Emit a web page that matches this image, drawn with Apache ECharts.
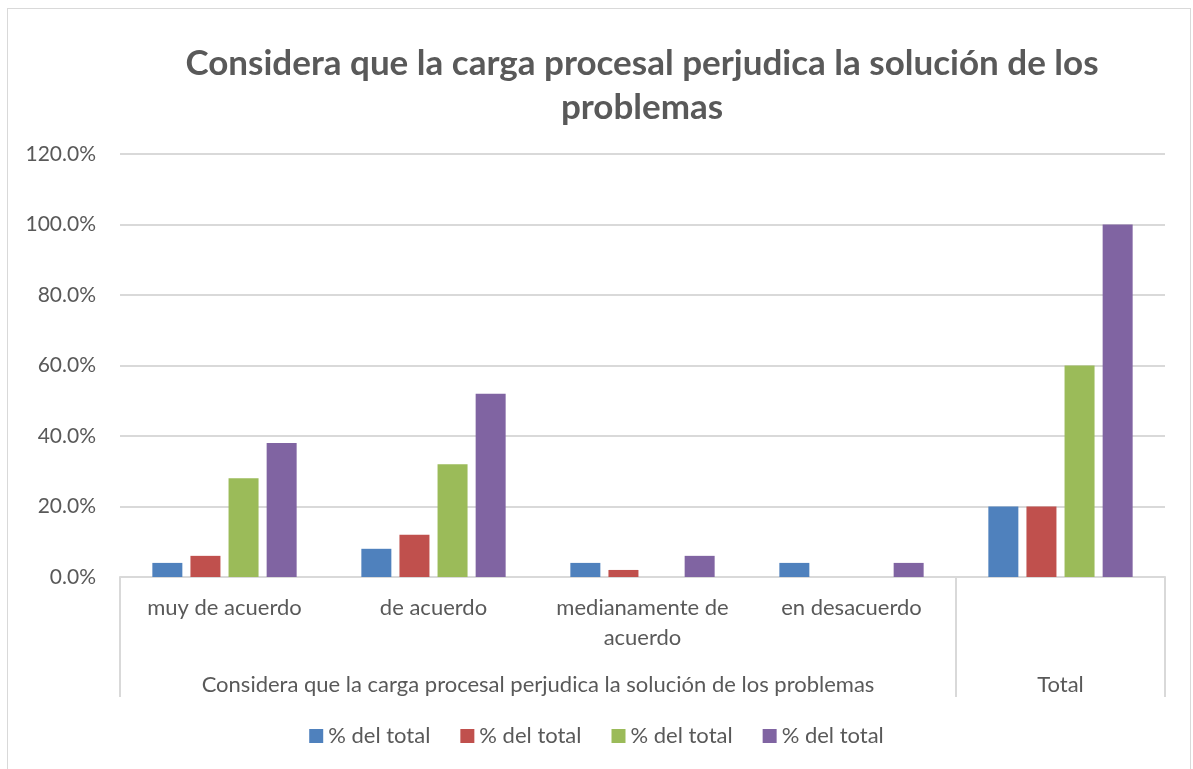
<!DOCTYPE html>
<html>
<head>
<meta charset="utf-8">
<script src="https://cdn.jsdelivr.net/npm/echarts@6/dist/echarts.min.js"></script>
<style>
  html, body { margin: 0; padding: 0; background: #fff; }
  .frame {
    position: absolute; left: 7px; top: 8px; width: 1184px; height: 780px;
    border: 1px solid #d9d9d9; box-sizing: border-box;
  }
  #chart { position: absolute; left: 0; top: 0; width: 1193px; height: 769px; }
</style>
</head>
<body>
<div class="frame"></div>
<div id="chart"></div>
<script>
  // values (percent)
  var categories = ['muy de acuerdo', 'de acuerdo', 'medianamente de\nacuerdo', 'en desacuerdo', '']
  var groupLabels = ['Considera que la carga procesal perjudica la solución de los problemas', 'Total']
  var serie1 = [4, 8, 4, 4, 20]
  var serie2 = [6, 12, 2, 0, 20]
  var serie3 = [28, 32, 0, 0, 60]
  var serie4 = [38, 52, 6, 4, 100]
  // all four series carry the same label, so keys keep them apart in the legend
  var seriesKeys = ['s1', 's2', 's3', 's4']
  var seriesLabel = '% del total'
  var colors = ['#4F81BD', '#C0504D', '#9BBB59', '#8064A2']

  var font = 'Lato, Carlito, sans-serif'
  var chart = echarts.init(document.getElementById('chart'))

  function bar(name, data, i) {
    return {
      name: name,
      type: 'bar',
      data: data,
      barWidth: 30,
      barGap: '27%',
      itemStyle: { color: colors[i] },
      xAxisIndex: 0
    }
  }

  chart.setOption({
    animation: false,
    title: {
      text: 'Considera que la carga procesal perjudica la solución de los\nproblemas',
      left: 637,
      textAlign: 'center',
      top: 37,
      textStyle: { fontFamily: font, fontSize: 35, fontWeight: 'bold', color: '#595959', lineHeight: 44 }
    },
    legend: {
      bottom: 17,
      left: 'center',
      itemWidth: 14,
      itemHeight: 14,
      itemGap: 30,
      icon: 'rect',
      textStyle: { fontFamily: font, fontSize: 22, color: '#595959' },
      formatter: function () { return seriesLabel },
      data: seriesKeys
    },
    tooltip: { show: false },
    grid: { left: 120, right: 28, top: 154, bottom: 192 },
    xAxis: [{
      type: 'category',
      data: categories,
      axisLine: { lineStyle: { color: '#d9d9d9', width: 2 } },
      axisTick: { show: false },
      axisLabel: { fontFamily: font, fontSize: 22, color: '#595959', margin: 16, lineHeight: 30, interval: 0 }
    }, {
      type: 'value',
      min: 0,
      max: 5,
      position: 'bottom',
      axisLine: { show: false },
      splitLine: { show: false },
      axisTick: { show: true, customValues: [0, 4, 5], length: 120, lineStyle: { color: '#d9d9d9', width: 2 } },
      axisLabel: {
        customValues: [2, 4.5],
        margin: 97,
        fontFamily: font, fontSize: 22, color: '#595959',
        formatter: function (v) { return v < 4 ? groupLabels[0] : groupLabels[1] }
      }
    }],
    yAxis: {
      type: 'value',
      min: 0,
      max: 120,
      interval: 20,
      axisLine: { show: false },
      axisTick: { show: false },
      splitLine: { lineStyle: { color: '#d9d9d9', width: 2 } },
      axisLabel: {
        fontFamily: font, fontSize: 21, color: '#595959', margin: 24,
        formatter: function (v) { return v.toFixed(1) + '%' }
      }
    },
    series: [
      bar(seriesKeys[0], serie1, 0),
      bar(seriesKeys[1], serie2, 1),
      bar(seriesKeys[2], serie3, 2),
      bar(seriesKeys[3], serie4, 3)
    ]
  })
</script>
</body>
</html>
